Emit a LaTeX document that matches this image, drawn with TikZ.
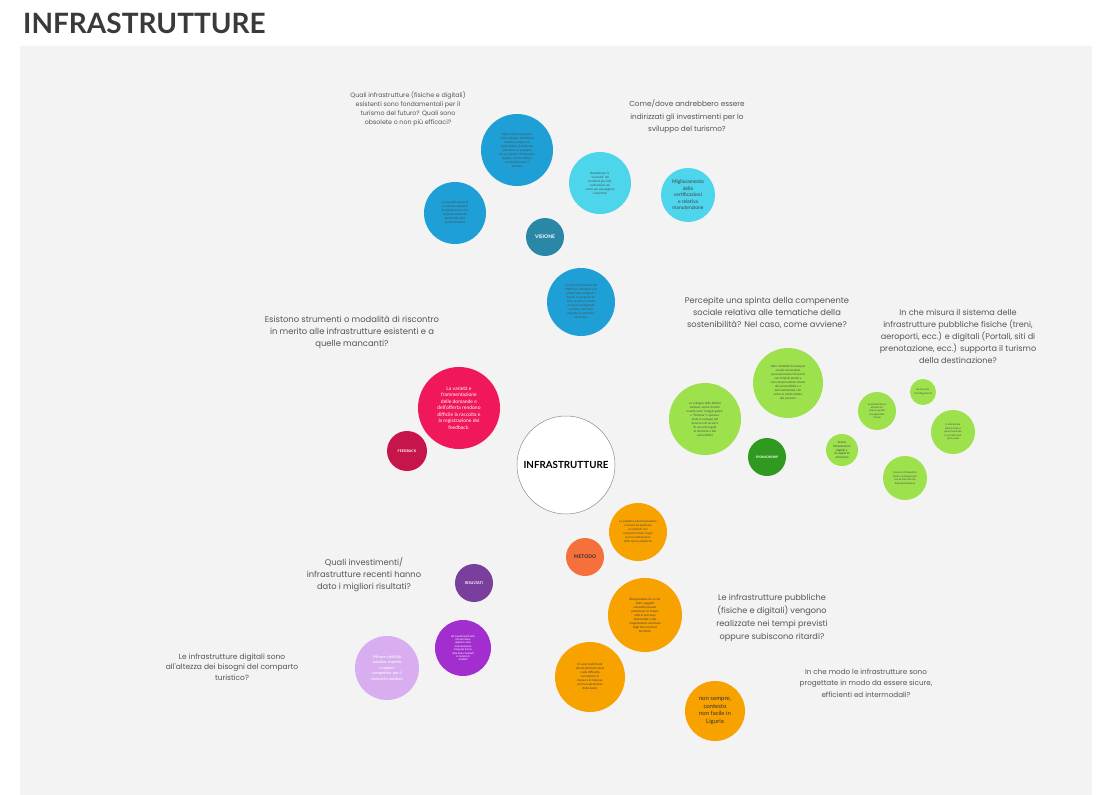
\documentclass[tikz,border=0pt]{standalone}
\usepackage{fontspec}
\setmainfont{Lato}
\newfontfamily\qfont{Poppins}
\begin{document}
\begin{tikzpicture}[x=1pt,y=-1pt]
\definecolor{qgray}{HTML}{555555}
\definecolor{panel}{HTML}{F3F3F3}
\definecolor{cblue}{HTML}{1EA0D6}
\definecolor{ccyan}{HTML}{4DD5EC}
\definecolor{cteal}{HTML}{2A88A6}
\definecolor{cpink}{HTML}{F0185A}
\definecolor{cdred}{HTML}{C5154A}
\definecolor{cgreen}{HTML}{9DE24C}
\definecolor{cdgreen}{HTML}{2F9A1F}
\definecolor{corange}{HTML}{F8A200}
\definecolor{cored}{HTML}{F5703A}
\definecolor{cpurple}{HTML}{7A3F9C}
\definecolor{cviolet}{HTML}{A32ECF}
\definecolor{clav}{HTML}{D8AEF0}
\definecolor{ctitle}{HTML}{3A3A3A}
\tikzset{
  q/.style={align=center, text=qgray, inner sep=0pt},
  bub/.style={circle, minimum size=2*#1, inner sep=0pt, align=center},
  tiny/.style={font=\fontsize{3}{4}\selectfont},
}
\useasboundingbox (0,0) rectangle (1112,795);
\fill[white] (0,0) rectangle (1112,795);
\fill[panel] (20,46) rectangle (1092,795);
\node[anchor=west, text=ctitle, font=\fontsize{28}{30}\selectfont\bfseries, inner sep=0pt] (title) at (23,23) {INFRASTRUTTURE};

% questions
\node[q, font=\qfont\fontsize{6.3}{9}\selectfont] (q1) at (408,109) {Quali infrastrutture (fisiche e digitali)\\esistenti sono fondamentali per il\\turismo del futuro? Quali sono\\obsolete o non più efficaci?};
\node[q, font=\qfont\fontsize{7.3}{12.5}\selectfont] (q2) at (687,117) {Come/dove andrebbero essere\\indirizzati gli investimenti per lo\\sviluppo del turismo?};
\node[q, font=\qfont\fontsize{8.4}{12}\selectfont] (q3) at (352,332) {Esistono strumenti o modalità di riscontro\\in merito alle infrastrutture esistenti e a\\quelle mancanti?};
\node[q, font=\qfont\fontsize{8.3}{12}\selectfont] (q4) at (767,313) {Percepite una spinta della compenente\\sociale relativa alle tematiche della\\sostenibilità? Nel caso, come avviene?};
\node[q, font=\qfont\fontsize{8.1}{12}\selectfont] (q5) at (958,336) {In che misura il sistema delle\\infrastrutture pubbliche fisiche (treni,\\aeroporti, ecc.) e digitali (Portali, siti di\\prenotazione, ecc.) supporta il turismo\\della destinazione?};
\node[q, font=\qfont\fontsize{8.3}{12}\selectfont] (q6) at (364,575) {Quali investimenti/\\infrastrutture recenti hanno\\dato i migliori risultati?};
\node[q, font=\qfont\fontsize{7.5}{10.5}\selectfont] (q7) at (232,667) {Le infrastrutture digitali sono\\all'altezza dei bisogni del comparto\\turistico?};
\node[q, font=\qfont\fontsize{8.2}{13}\selectfont] (q8) at (772,618) {Le infrastrutture pubbliche\\(fisiche e digitali) vengono\\realizzate nei tempi previsti\\oppure subiscono ritardi?};
\node[q, font=\qfont\fontsize{7.2}{11.5}\selectfont] (q9) at (866,683) {In che modo le infrastrutture sono\\progettate in modo da essere sicure,\\efficienti ed intermodali?};

% center
\node[bub=49, draw=black!45, line width=0.5pt, fill=white, font=\fontsize{9.8}{11}\selectfont\bfseries] (center) at (566,465) {INFRASTRUTTURE};

% blue / vision
\node[bub=36, fill=cblue, tiny, text=black!70] (b1) at (517,150) {Dalla visione emergono\\come sviluppo dell'offerta\\turistica e della sua\\sostenibilità, si conferma\\attenzione al sostegno\\e/o cura delle infrastrutture\\digitali e fisiche diffuse\\sul territorio per il\\turismo};
\node[bub=31, fill=ccyan, tiny, text=black!70] (c1) at (600,183) {Banalmente le\\``curiosità'' del\\territorio già visti,\\collocazioni nei\\centri per passeggiare\\e divertirsi};
\node[bub=27, fill=ccyan, font=\fontsize{5}{6.5}\selectfont, text=black!75] (c2) at (688,195) {Miglioramento\\delle\\certificazioni\\e relativa\\manutenzione};
\node[bub=31, fill=cblue, tiny, text=black!70] (b2) at (455,213) {La riqualificazione di\\un sistema specifico\\di appartamento e le\\esigenze turistiche\\territoriali sono\\aspetti di rilievo};
\node[bub=19, fill=cteal, text=white, font=\fontsize{5}{6}\selectfont\bfseries] (visione) at (545,237) {VISIONE};
\node[bub=34, fill=cblue, tiny, text=black!70] (b3) at (581,302) {Gli interventi previsti dal\\PNRR per il turismo e le\\infrastrutture digitali e\\fisiche si rivolgono ad\\una crescita e a nuovi\\servizi di accoglienza\\turistica, ma il loro\\impatto va verificato\\nel tempo};

% feedback
\node[bub=41, fill=cpink, text=white, font=\fontsize{5}{6.5}\selectfont] (p1) at (459,408) {La varietà e\\frammentazione\\delle domande e\\dell'offerta rendono\\difficile la raccolta e\\la registrazione dei\\feedback.};
\node[bub=20, fill=cdred, text=white, font=\fontsize{3.6}{4}\selectfont\bfseries] (feedback) at (407,451) {FEEDBACK};

% green / sponsorship
\node[bub=36, fill=cgreen, tiny, text=black!70] (g1) at (705,419) {Lo sviluppo delle attività\\outdoor, anche tramite\\eventi come ``maggio gusto''\\e ``fioritura'' e sponsor,\\aiuta lo sviluppo del\\turismo e di servizi e\\di una rete legata\\al territorio e alla\\sostenibilità};
\node[bub=35, fill=cgreen, tiny, text=black!70] (g2) at (788,383) {Altre modalità di sostegno\\sociale ad esempio\\sponsorizzazioni di eventi\\con fondi di privati e\\con comunicazione mirata\\alla sostenibilità e a\\temi ambientali, che\\arriva in modo diretto\\alle persone};
\node[bub=19, fill=cdgreen, text=white, font=\fontsize{3.2}{4}\selectfont\bfseries] (sponsor) at (767,457) {SPONSORSHIP};
\node[bub=19, fill=cgreen, font=\fontsize{2.6}{3.4}\selectfont, text=black!70] (g3) at (877,411) {Le infrastrutture\\attuali non\\sono in grado\\di supportare\\i flussi};
\node[bub=13, fill=cgreen, font=\fontsize{2.6}{3.4}\selectfont, text=black!70] (g4) at (923,392) {Buona rete\\di collegamenti};
\node[bub=22, fill=cgreen, font=\fontsize{2.6}{3.4}\selectfont, text=black!70] (g5) at (953,432) {Il sistema dei\\treni è lento e\\poco frequente\\e i portali sono\\poco usati};
\node[bub=16, fill=cgreen, font=\fontsize{3}{3.8}\selectfont, text=black!75] (g6) at (842,450) {Scarse\\infrastrutture\\digitali e\\di supporto\\al turismo};
\node[bub=22, fill=cgreen, font=\fontsize{2.6}{3.4}\selectfont, text=black!70] (g7) at (905,478) {Carenze di trasporto\\locale e collegamenti\\con le aree interne\\della destinazione};

% orange / metodo
\node[bub=19, fill=cored, text=black!80, font=\fontsize{5}{6}\selectfont\bfseries] (metodo) at (585,557) {METODO};
\node[bub=29, fill=corange, tiny, text=black!70] (o1) at (638,532) {La pubblica amministrazione\\è tenuta ad applicare\\un metodo che\\comporta tempi lunghi\\per la realizzazione\\delle opere pubbliche};
\node[bub=37, fill=corange, tiny, text=black!75] (o2) at (645,615) {Bisognerebbe far sì che\\tutti i soggetti\\coinvolti possano\\partecipare in tempo\\utile al processo\\decisionale e alla\\progettazione condivisa\\degli interventi sul\\territorio};
\node[bub=35, fill=corange, tiny, text=black!75] (o3) at (590,677) {Ci sono stati ritardi\\dovuti alla burocrazia\\e alle difficoltà\\nel reperire le\\risorse e le imprese\\per la realizzazione\\delle opere};
\node[bub=30, fill=corange, text=black!80, font=\fontsize{6}{7.5}\selectfont] (o4) at (715,711) {non sempre,\\contesto\\non facile in\\Liguria};

% purple / risultati
\node[bub=19, fill=cpurple, text=white, font=\fontsize{3.8}{4.5}\selectfont\bfseries] (risultati) at (474,583) {RISULTATI};
\node[bub=28, fill=cviolet, text=white, font=\fontsize{2.6}{3.4}\selectfont] (v1) at (463,648) {Gli investimenti nelle\\infrastrutture\\digitali e nella\\comunicazione\\integrata hanno\\dato buoni risultati\\in termini di\\visibilità};
\node[bub=32, fill=clav, text=white, font=\fontsize{4}{5.5}\selectfont] (l1) at (387,668) {Minore visibilità\\outdoor rispetto\\a regioni\\competitor per il\\comparto outdoor};
\end{tikzpicture}
\end{document}
